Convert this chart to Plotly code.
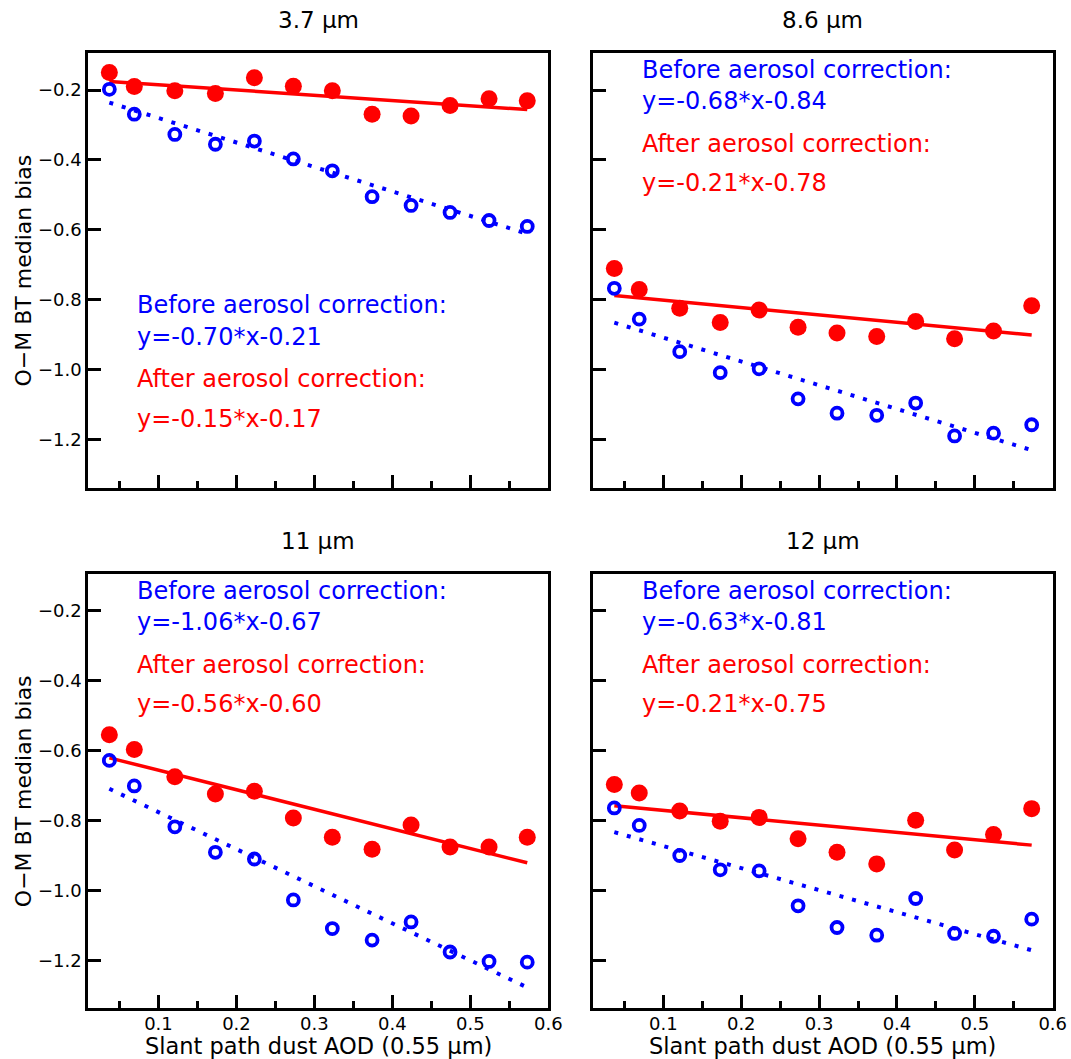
import plotly.graph_objects as go

# ---------------- data ----------------
aod = [0.037, 0.069, 0.121, 0.173, 0.223, 0.273, 0.323, 0.374, 0.424, 0.474, 0.524, 0.573]

titles = ["3.7 µm", "8.6 µm", "11 µm", "12 µm"]

before = [
    [-0.198, -0.269, -0.327, -0.355, -0.346, -0.397, -0.431, -0.505, -0.530, -0.550, -0.573, -0.590],
    [-0.767, -0.855, -0.948, -1.008, -0.997, -1.083, -1.124, -1.130, -1.095, -1.189, -1.181, -1.157],
    [-0.628, -0.701, -0.818, -0.891, -0.910, -1.027, -1.109, -1.142, -1.090, -1.176, -1.203, -1.205],
    [-0.764, -0.814, -0.900, -0.941, -0.944, -1.044, -1.106, -1.128, -1.023, -1.123, -1.131, -1.082],
]
after = [
    [-0.150, -0.190, -0.202, -0.210, -0.165, -0.189, -0.202, -0.269, -0.274, -0.244, -0.225, -0.231],
    [-0.710, -0.770, -0.824, -0.865, -0.829, -0.878, -0.895, -0.905, -0.862, -0.911, -0.889, -0.817],
    [-0.555, -0.597, -0.675, -0.724, -0.716, -0.793, -0.848, -0.882, -0.813, -0.876, -0.876, -0.848],
    [-0.697, -0.721, -0.773, -0.802, -0.791, -0.852, -0.891, -0.924, -0.799, -0.884, -0.840, -0.766],
]
before_slope = [-0.70, -0.68, -1.06, -0.63]
before_icpt = [-0.21, -0.84, -0.67, -0.81]
after_slope = [-0.15, -0.21, -0.56, -0.21]
after_icpt = [-0.17, -0.78, -0.60, -0.75]

x_range = [0.01, 0.6]
y_range = [-1.337, -0.095]

# text positions (data coords) of the four annotation lines per panel
text_y = [
    [-0.816, -0.905, -1.025, -1.140],
    [-0.144, -0.2315, -0.355, -0.466],
    [-0.144, -0.2315, -0.355, -0.466],
    [-0.144, -0.2315, -0.355, -0.466],
]
text_x = 0.07

W, H = 1071, 1059
FONT = "DejaVu Sans"
RED = "#ff0000"
BLUE = "#0000ff"

# pixel layout
xd = [[88.3 / W, 548.3 / W], [593.3 / W, 1052.7 / W]]
yd = [[1 - 487.7 / H, 1 - 53.3 / H], [1 - 1008.3 / H, 1 - 574.0 / H]]

fig = go.Figure()
annotations = []

for i in range(4):
    row, col = divmod(i, 2)
    n = "" if i == 0 else str(i + 1)
    xa, ya = "x" + n, "y" + n

    # fit lines
    xs = [min(aod), max(aod)]
    fig.add_trace(go.Scatter(
        x=xs, y=[after_slope[i] * v + after_icpt[i] for v in xs],
        mode="lines", line=dict(color=RED, width=3.5),
        xaxis=xa, yaxis=ya, showlegend=False, hoverinfo="skip"))
    fig.add_trace(go.Scatter(
        x=xs, y=[before_slope[i] * v + before_icpt[i] for v in xs],
        mode="lines", line=dict(color=BLUE, width=4, dash="4px,9px"),
        xaxis=xa, yaxis=ya, showlegend=False, hoverinfo="skip"))
    # points
    fig.add_trace(go.Scatter(
        x=aod, y=after[i], mode="markers",
        marker=dict(color=RED, size=17, symbol="circle"),
        xaxis=xa, yaxis=ya, showlegend=False))
    fig.add_trace(go.Scatter(
        x=aod, y=before[i], mode="markers",
        marker=dict(color="rgba(0,0,0,0)", size=11, symbol="circle",
                    line=dict(color=BLUE, width=3.8)),
        xaxis=xa, yaxis=ya, showlegend=False))

    common = dict(showline=True, linewidth=3, linecolor="black", mirror=True,
                  showgrid=False, zeroline=False, ticks="inside", tickwidth=2.5,
                  ticklen=13, tickcolor="black", automargin=False,
                  tickfont=dict(family=FONT, size=18, color="black"))
    fig.layout["xaxis" + n] = dict(
        domain=xd[col], anchor=ya, range=x_range, dtick=0.1, tick0=0,
        tickformat=".1f", showticklabels=(row == 1), ticklabelstandoff=-3,
        minor=dict(ticks="inside", ticklen=7, tickwidth=2.5, dtick=0.05,
                   tick0=0, tickcolor="black", showgrid=False),
        **common)
    fig.layout["yaxis" + n] = dict(
        domain=yd[row], anchor=xa, range=y_range, dtick=0.2, tick0=0,
        tickformat=".1f", showticklabels=(col == 0), **common)

    # text
    lines = [
        ("Before aerosol correction:", BLUE),
        ("y=%.2f*x%.2f" % (before_slope[i], before_icpt[i]), BLUE),
        ("After aerosol correction:", RED),
        ("y=%.2f*x%.2f" % (after_slope[i], after_icpt[i]), RED),
    ]
    for (txt, c), ty in zip(lines, text_y[i]):
        annotations.append(dict(
            x=text_x, y=ty, xref=xa, yref=ya, text=txt, showarrow=False,
            xanchor="left", yanchor="middle",
            font=dict(family=FONT, size=24, color=c)))

    # panel title
    cx = (xd[col][0] + xd[col][1]) / 2
    annotations.append(dict(
        x=cx, y=yd[row][1] + 33 / H, xref="paper", yref="paper",
        text=titles[i], showarrow=False, xanchor="center", yanchor="middle",
        font=dict(family=FONT, size=23, color="black")))

    if row == 1:
        annotations.append(dict(
            x=cx, y=yd[row][0] - 38 / H, xref="paper", yref="paper",
            text="Slant path dust AOD (0.55 µm)", showarrow=False,
            xanchor="center", yanchor="middle",
            font=dict(family=FONT, size=22.5, color="black")))
    if col == 0:
        annotations.append(dict(
            x=23 / W, y=(yd[row][0] + yd[row][1]) / 2, xref="paper", yref="paper",
            text="O−M BT median bias", showarrow=False, textangle=-90,
            xanchor="center", yanchor="middle",
            font=dict(family=FONT, size=22, color="black")))

fig.update_layout(
    width=W, height=H, margin=dict(l=0, r=0, t=0, b=0),
    paper_bgcolor="white", plot_bgcolor="white",
    annotations=annotations, showlegend=False,
)

fig.write_html("out.html")
